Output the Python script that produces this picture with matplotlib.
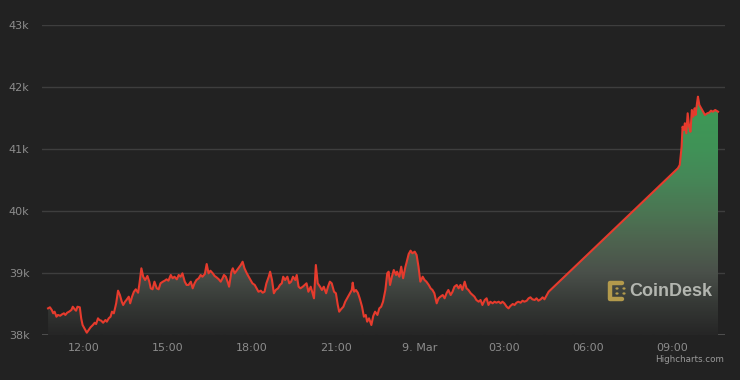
import matplotlib
matplotlib.use("Agg")
import matplotlib.pyplot as plt
import matplotlib.dates as mdates
import numpy as np
import pandas as pd
from matplotlib.colors import LinearSegmentedColormap
from matplotlib.lines import Line2D
from matplotlib.patches import Circle

# ---------------- data (BTC price, 8-9 Mar) ----------------
times_mar8 = [
    "10:43", "10:47", "10:51", "10:54", "10:57", "11:01", "11:04", "11:09", "11:13", "11:17",
    "11:20", "11:24", "11:28", "11:33", "11:36", "11:40", "11:43", "11:46", "11:51", "11:54",
    "11:57", "12:02", "12:06", "12:10", "12:14", "12:19", "12:23", "12:26", "12:30", "12:33",
    "12:37", "12:41", "12:46", "12:49", "12:53", "12:57", "13:00", "13:04", "13:09", "13:13",
    "13:17", "13:21", "13:24", "13:28", "13:31", "13:36", "13:39", "13:43", "13:47", "13:51",
    "13:56", "13:59", "14:03", "14:07", "14:11", "14:16", "14:20", "14:23", "14:27", "14:31",
    "14:36", "14:40", "14:44", "14:49", "14:53", "14:57", "15:01", "15:06", "15:10", "15:14",
    "15:19", "15:23", "15:27", "15:31", "15:36", "15:40", "15:44", "15:49", "15:53", "15:57",
    "16:01", "16:06", "16:10", "16:14", "16:19", "16:23", "16:27", "16:31", "16:36", "16:40",
    "16:44", "16:49", "16:53", "16:57", "17:00", "17:04", "17:09", "17:11", "17:16", "17:19",
    "17:23", "17:27", "17:31", "17:36", "17:40", "17:44", "17:49", "17:53", "17:57", "18:01",
    "18:06", "18:10", "18:14", "18:19", "18:23", "18:27", "18:31", "18:36", "18:39", "18:43",
    "18:47", "18:51", "18:56", "19:00", "19:04", "19:07", "19:11", "19:16", "19:20", "19:24",
    "19:28", "19:33", "19:36", "19:40", "19:44", "19:49", "19:53", "19:57", "20:01", "20:06",
    "20:10", "20:13", "20:17", "20:21", "20:26", "20:30", "20:34", "20:39", "20:43", "20:47",
    "20:51", "20:56", "21:00", "21:04", "21:07", "21:11", "21:16", "21:20", "21:24", "21:30",
    "21:34", "21:36", "21:39", "21:43", "21:47", "21:51", "21:56", "22:00", "22:04", "22:07",
    "22:11", "22:16", "22:20", "22:24", "22:29", "22:33", "22:37", "22:41", "22:46", "22:50",
    "22:53", "22:56", "23:00", "23:04", "23:09", "23:11", "23:16", "23:20", "23:24", "23:29",
    "23:31", "23:36", "23:40", "23:44", "23:49", "23:53", "23:57",
]
prices_mar8 = [
    38430, 38447, 38403, 38350, 38376, 38295, 38323, 38311, 38334, 38350,
    38323, 38360, 38376, 38403, 38456, 38415, 38392, 38456, 38447, 38269,
    38161, 38092, 38037, 38081, 38124, 38161, 38198, 38177, 38269, 38242,
    38231, 38198, 38242, 38215, 38269, 38295, 38376, 38350, 38511, 38715,
    38645, 38537, 38484, 38537, 38565, 38618, 38511, 38618, 38698, 38737,
    38682, 38834, 39076, 38940, 38887, 38952, 38860, 38753, 38737, 38860,
    38753, 38737, 38834, 38860, 38876, 38898, 38876, 38968, 38915, 38940,
    38898, 38968, 38940, 38995, 38860, 38807, 38807, 38860, 38753, 38834,
    38887, 38915, 38968, 38940, 38984, 39145, 38995, 39037, 38995, 38952,
    38931, 38898, 38860, 38915, 38968, 38940, 38834, 38779, 39021, 39076,
    38995, 39037, 39076, 39129, 39182, 39076, 38995, 38940, 38887, 38834,
    38807, 38753, 38698, 38715, 38682, 38698, 38834, 38940, 39021, 38887,
    38673, 38726, 38753, 38807, 38834, 38940, 38887, 38940, 38834, 38860,
    38940, 38887, 38968, 38779, 38753, 38779, 38807, 38834, 38698, 38779,
    38673, 38592, 39129, 38834, 38779, 38726, 38779, 38673, 38779, 38860,
    38834, 38698, 38673, 38484, 38376, 38415, 38456, 38537, 38592, 38673,
    38726, 38844, 38698, 38726, 38682, 38592, 38456, 38295, 38323, 38215,
    38269, 38161, 38306, 38376, 38323, 38430, 38456, 38537, 38726, 38995,
    39021, 38807, 38940, 39048, 38968, 39021, 38940, 39102, 38915, 39102,
    39157, 39307, 39360, 39318, 39344, 39290, 39102,
]
times_mar9 = [
    "00:01", "00:06", "00:10", "00:14", "00:19", "00:23", "00:27", "00:31", "00:36", "00:40",
    "00:44", "00:49", "00:53", "00:57", "01:01", "01:06", "01:10", "01:14", "01:19", "01:23",
    "01:27", "01:31", "01:36", "01:40", "01:44", "01:49", "01:53", "01:57", "02:01", "02:06",
    "02:10", "02:14", "02:19", "02:23", "02:27", "02:31", "02:36", "02:40", "02:44", "02:49",
    "02:53", "02:57", "03:01", "03:06", "03:10", "03:14", "03:19", "03:23", "03:27", "03:31",
    "03:36", "03:40", "03:44", "03:49", "03:53", "03:57", "04:01", "04:06", "04:10", "04:14",
    "04:19", "04:23", "04:27", "04:31", "04:36",
    "09:13", "09:17", "09:21", "09:23", "09:26", "09:28", "09:31", "09:34", "09:37", "09:40",
    "09:43", "09:46", "09:49", "09:51", "09:54", "09:56", "09:59", "10:03", "10:07", "10:11",
    "10:16", "10:20", "10:24", "10:28", "10:33", "10:39",
]
prices_mar9 = [
    38860, 38940, 38887, 38860, 38807, 38753, 38726, 38673, 38511, 38592,
    38618, 38645, 38592, 38673, 38726, 38645, 38698, 38779, 38807, 38753,
    38807, 38726, 38860, 38753, 38726, 38673, 38645, 38618, 38565, 38537,
    38565, 38484, 38565, 38592, 38484, 38537, 38511, 38537, 38521, 38537,
    38511, 38537, 38511, 38456, 38430, 38468, 38500, 38484, 38521, 38537,
    38521, 38553, 38537, 38553, 38592, 38608, 38576, 38565, 38592, 38553,
    38576, 38608, 38576, 38629, 38698,
    40689, 40742, 41037, 41360, 41307, 41415, 41253, 41576, 41360, 41279,
    41629, 41521, 41657, 41549, 41737, 41844, 41710, 41657, 41602, 41549,
    41576, 41586, 41618, 41602, 41629, 41602,
]

y_ticks = [38000, 39000, 40000, 41000, 42000, 43000]
y_tick_labels = ["38k", "39k", "40k", "41k", "42k", "43k"]
x_tick_times = ["2022-03-08 12:00", "2022-03-08 15:00", "2022-03-08 18:00", "2022-03-08 21:00",
                "2022-03-09 00:00", "2022-03-09 03:00", "2022-03-09 06:00", "2022-03-09 09:00"]
x_tick_labels = ["12:00", "15:00", "18:00", "21:00", "9. Mar", "03:00", "06:00", "09:00"]
x_range = ["2022-03-08 10:30", "2022-03-09 10:54"]

# ---------------- style ----------------
BG = "#222222"
GRID = "#3e3e3e"
LABEL = "#8c8c8c"
LINE = "#e63b2d"

t = pd.to_datetime(["2022-03-08 " + s for s in times_mar8] + ["2022-03-09 " + s for s in times_mar9])
x = mdates.date2num(t.to_pydatetime())
y = np.array(prices_mar8 + prices_mar9, dtype=float)

W, H = 740, 380
fig = plt.figure(figsize=(W / 100, H / 100), dpi=100, facecolor=BG)
ax = fig.add_axes([42 / W, 45 / H, 683 / W, 310 / H])
ax.set_facecolor(BG)

xr = mdates.date2num(pd.to_datetime(x_range).to_pydatetime())
ax.set_xlim(xr[0], xr[1])
ax.set_ylim(y_ticks[0], y_ticks[-1])

# gridlines
ax.set_yticks(y_ticks)
ax.set_yticklabels(y_tick_labels)
ax.grid(axis="y", color=GRID, linewidth=1.0)
ax.set_axisbelow(True)
for s in ax.spines.values():
    s.set_visible(False)
ax.axhline(y_ticks[0], color="#555555", linewidth=1.2, zorder=1)

xt = mdates.date2num(pd.to_datetime(x_tick_times).to_pydatetime())
ax.set_xticks(xt)
ax.set_xticklabels(x_tick_labels)
ax.tick_params(axis="both", length=0, colors=LABEL, labelsize=8)
ax.tick_params(axis="y", pad=9)
ax.tick_params(axis="x", pad=6)

# gradient area fill
cmap = LinearSegmentedColormap.from_list("area", [
    (0.00, "#262626"),
    (0.10, "#363936"),
    (0.20, "#4a504a"),
    (0.30, "#4e634f"),
    (0.40, "#4b7653"),
    (0.50, "#468657"),
    (0.60, "#409257"),
    (0.80, "#3c9c55"),
    (1.00, "#3c9c55"),
])
grad = np.linspace(0, 1, 400).reshape(-1, 1)
poly = ax.fill_between(x, y, y_ticks[0], facecolor="none", edgecolor="none")
im = ax.imshow(grad, cmap=cmap, aspect="auto", origin="lower",
               extent=[xr[0], xr[1], y_ticks[0], y_ticks[-1]], zorder=2, interpolation="bilinear")
im.set_clip_path(poly.get_paths()[0], transform=ax.transData)
ax.set_xlim(xr[0], xr[1])
ax.set_ylim(y_ticks[0], y_ticks[-1])

ax.plot(x, y, color=LINE, linewidth=1.5, zorder=3, solid_joinstyle="round")

# CoinDesk logo
gold = "#b39a4c"
def fx(px):
    return px / W
def fy(py):
    return 1 - py / H
fig.add_artist(Line2D([fx(622), fx(610), fx(610), fx(622)],
                      [fy(283), fy(283), fy(299), fy(299)],
                      color=gold, linewidth=3.2, solid_capstyle="round",
                      solid_joinstyle="round", transform=fig.transFigure, zorder=5))
for (px, py) in [(617, 288.5), (617, 293.5), (624, 288.5), (624, 293.5)]:
    fig.add_artist(Circle((fx(px), fy(py)), 0.9 / W, color=gold,
                          transform=fig.transFigure, zorder=5))
fig.text(fx(629), fy(291), "CoinDesk", family="Liberation Sans", weight="bold",
         fontsize=13, color="#b3b6b0", ha="left", va="center", zorder=5)

fig.text(fx(724), fy(359), "Highcharts.com", fontsize=6.3, color="#9a9a9a",
         ha="right", va="center")

fig.savefig("out.png", dpi=100, facecolor=BG)
